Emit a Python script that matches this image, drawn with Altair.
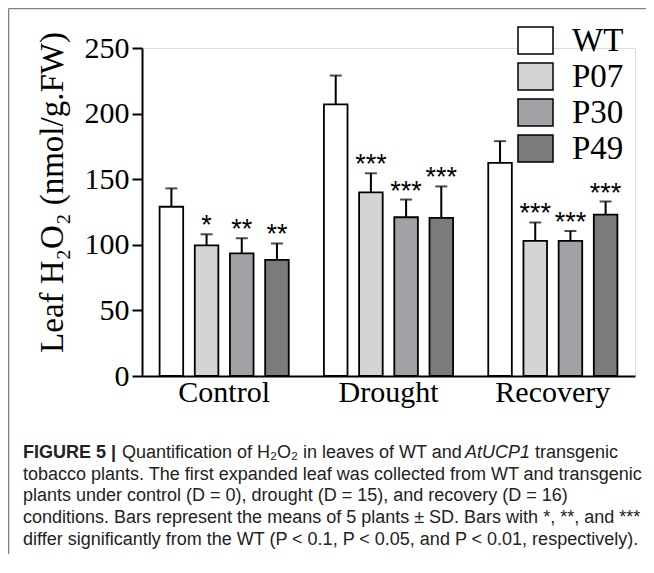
import altair as alt
import pandas as pd

conditions = ["Control", "Drought", "Recovery"]
genotypes = ["WT", "P07", "P30", "P49"]
means = {
    "Control": [129, 99.5, 93.5, 88.5],
    "Drought": [207, 140, 121, 120.5],
    "Recovery": [162.5, 103, 103, 123],
}
sds = {
    "Control": [14, 8.5, 11.5, 12.5],
    "Drought": [22, 14.5, 13.5, 24],
    "Recovery": [16.5, 14, 7.5, 10],
}
stars = {
    "Control": ["", "*", "**", "**"],
    "Drought": ["", "***", "***", "***"],
    "Recovery": ["", "***", "***", "***"],
}
colors = ["#ffffff", "#d4d4d4", "#a2a2a6", "#7b7b7b"]

caption_lines = [
    "tobacco plants. The first expanded leaf was collected from WT and transgenic",
    "plants under control (D = 0), drought (D = 15), and recovery (D = 16)",
    "conditions. Bars represent the means of 5 plants \u00b1 SD. Bars with *, **, and ***",
    "differ significantly from the WT (P < 0.1, P < 0.05, and P < 0.01, respectively).",
]

rows = []
for c in conditions:
    for i, g in enumerate(genotypes):
        rows.append({"cond": c, "geno": g, "mean": means[c][i], "sd": sds[c][i], "star": stars[c][i]})
df = pd.DataFrame(rows)

SERIF = "Liberation Serif"
SANS = "Liberation Sans"

xenc = alt.X("cond:N", sort=conditions, title=None,
             scale=alt.Scale(paddingInner=0, paddingOuter=0),
             axis=alt.Axis(labelAngle=0, ticks=False, labelFont=SERIF, labelFontSize=30,
                           labelColor="black", labelPadding=1, domainColor="black",
                           domainWidth=2))
xoff = alt.XOffset("geno:N", sort=genotypes,
                   scale=alt.Scale(paddingInner=0.33, paddingOuter=0.5))
yscale = alt.Scale(domain=[0, 250], nice=False)

base = alt.Chart(df)

bars = base.mark_bar(stroke="black", strokeWidth=1.8, opacity=1).encode(
    x=xenc,
    xOffset=xoff,
    y=alt.Y("mean:Q", scale=yscale,
            axis=alt.Axis(values=[0, 50, 100, 150, 200, 250], grid=False,
                          labelFont=SERIF, labelFontSize=30, labelColor="black",
                          labelPadding=3, tickSize=10, tickWidth=2, tickColor="black",
                          domainColor="black", domainWidth=2,
                          title="Leaf H\u2082O\u2082 (nmol/g.FW)", titleFont=SERIF,
                          titleFontSize=33, titleFontWeight="normal", titleColor="black",
                          titleAngle=-90, titleX=-90, titleY=144, titleAlign="center",
                          titleBaseline="middle")),
    fill=alt.Fill("geno:N", sort=genotypes,
                  scale=alt.Scale(domain=genotypes, range=colors),
                  legend=alt.Legend(title=None, orient="none", legendX=375, legendY=-26,
                                    symbolType="M-1,-0.77H1V0.77H-1Z", symbolSize=1225,
                                    symbolStrokeColor="black", symbolStrokeWidth=1.5,
                                    symbolOpacity=1, labelFont=SERIF, labelFontSize=33,
                                    labelColor="black", labelOffset=18, rowPadding=-3)),
)

err = base.transform_calculate(top="datum.mean + datum.sd").mark_rule(
    color="black", strokeWidth=2).encode(
    x=alt.X("cond:N", sort=conditions), xOffset=xoff,
    y="mean:Q", y2="top:Q")

cap = base.transform_calculate(top="datum.mean + datum.sd").mark_tick(
    color="black", thickness=2, size=12, orient="horizontal").encode(
    x=alt.X("cond:N", sort=conditions), xOffset=xoff, y="top:Q")

star = base.transform_calculate(top="datum.mean + datum.sd").mark_text(
    font=SANS, fontSize=27, baseline="alphabetic", dy=0, color="black").encode(
    x=alt.X("cond:N", sort=conditions), xOffset=xoff, y="top:Q", text="star:N")

one = alt.Chart(pd.DataFrame({"a": [0]}))
border_top = one.mark_rule(color="#808080", strokeWidth=1.5).encode(
    x=alt.value(-133.5), x2=alt.value(520), y=alt.value(-39.5))
border_left = one.mark_rule(color="#808080", strokeWidth=1.5).encode(
    x=alt.value(-133.5), y=alt.value(-39.5), y2=alt.value(540))

FS = 18
CX = -119
BASE0 = 410
STEP = 21.7
cap_bold = one.mark_text(font=SANS, fontSize=FS, fontWeight="bold", align="left",
                         baseline="alphabetic", color="#222").encode(
    x=alt.value(CX), y=alt.value(BASE0), text=alt.value("FIGURE 5 |"))
cap_1a = one.mark_text(font=SANS, fontSize=FS, align="left", baseline="alphabetic",
                       color="#222").encode(
    x=alt.value(-20), y=alt.value(BASE0),
    text=alt.value("Quantification of H\u2082O\u2082 in leaves of WT and"))
cap_1b = one.mark_text(font=SANS, fontSize=FS, fontStyle="italic", align="left",
                       baseline="alphabetic", color="#222").encode(
    x=alt.value(323), y=alt.value(BASE0), text=alt.value("AtUCP1"))
cap_1c = one.mark_text(font=SANS, fontSize=FS, align="left", baseline="alphabetic",
                       color="#222").encode(
    x=alt.value(393), y=alt.value(BASE0), text=alt.value("transgenic"))

cap_rest = []
for k, line in enumerate(caption_lines):
    cap_rest.append(one.mark_text(font=SANS, fontSize=FS, align="left",
                                  baseline="alphabetic", color="#222").encode(
        x=alt.value(CX), y=alt.value(BASE0 + STEP * (k + 1)), text=alt.value(line)))

chart = alt.layer(bars, err, cap, star, border_top, border_left,
                  cap_bold, cap_1a, cap_1b, cap_1c, *cap_rest).properties(
    width=493, height=328,
    autosize=alt.AutoSizeParams(type="none"),
    padding={"left": 134, "top": 40, "right": 11, "bottom": 178},
).configure_view(stroke=None).configure(background="white")

chart.save("out.html", embed_options={"renderer": "svg", "actions": False})
